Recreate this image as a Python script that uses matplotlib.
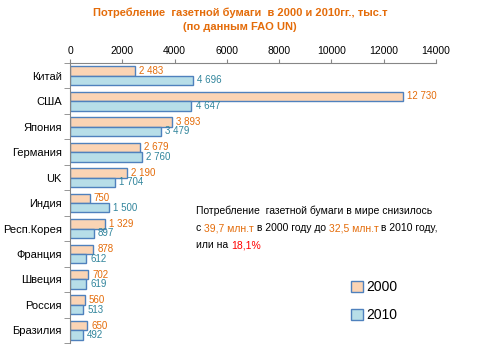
import numpy as np
import matplotlib.pyplot as plt

countries = ["Китай", "США", "Япония", "Германия", "UK", "Индия",
             "Респ.Корея", "Франция", "Швеция", "Россия", "Бразилия"]
v2000 = [2483, 12730, 3893, 2679, 2190, 750, 1329, 878, 702, 560, 650]
v2010 = [4696, 4647, 3479, 2760, 1704, 1500, 897, 612, 619, 513, 492]
xticks = [0, 2000, 4000, 6000, 8000, 10000, 12000, 14000]

plt.rcParams['font.family'] = ['Liberation Sans', 'DejaVu Sans']

c_orange = "#FBD4B4"
c_blue = "#B7DEE8"
c_edge = "#4F81BD"
t_orange = "#E46C0A"
t_blue = "#31859C"

fig = plt.figure(figsize=(4.8, 3.6), dpi=100)
ax = fig.add_axes([0.146, 0.047, 0.762, 0.778])

y = np.arange(len(countries))
h = 0.37
ax.barh(y - h / 2, v2000, height=h, color=c_orange, edgecolor=c_edge, linewidth=1, label="2000")
ax.barh(y + h / 2, v2010, height=h, color=c_blue, edgecolor=c_edge, linewidth=1, label="2010")

def fmt(v):
    return f"{v:,}".replace(",", " ")

for i in range(len(countries)):
    ax.text(v2000[i] + 160, y[i] - h / 2, fmt(v2000[i]), color=t_orange, fontsize=7, va="center", ha="left")
    ax.text(v2010[i] + 160, y[i] + h / 2, fmt(v2010[i]), color=t_blue, fontsize=7, va="center", ha="left")

ax.set_xlim(0, 14000)
ax.set_ylim(len(countries) - 0.5, -0.5)
ax.xaxis.tick_top()
ax.set_xticks(xticks)
ax.set_xticklabels([str(t) for t in xticks], fontsize=7.5)
ax.tick_params(axis="x", length=3, pad=2, color="#868686")

ax.set_yticks(y)
ax.set_yticklabels(countries, fontsize=8)
ax.tick_params(axis="y", length=0, pad=6)
ax.set_yticks(np.arange(len(countries) + 1) - 0.5, minor=True)
ax.tick_params(axis="y", which="minor", length=4, color="#868686")

for s in ["right", "bottom"]:
    ax.spines[s].set_visible(False)
ax.spines["top"].set_color("#868686")
ax.spines["left"].set_color("#868686")

fig.text(0.5, 0.965, "Потребление  газетной бумаги  в 2000 и 2010гг., тыс.т",
         ha="center", va="center", color=t_orange, fontsize=8, fontweight="bold")
fig.text(0.5, 0.925, "(по данным FAO UN)",
         ha="center", va="center", color=t_orange, fontsize=8, fontweight="bold")

# annotation block
fs = 7.5
fig.text(0.408, 0.405, "Потребление  газетной бумаги в мире снизилось", fontsize=fs, color="black")
parts = [("с ", "black"), ("39,7 млн.т", t_orange), (" в 2000 году до ", "black"),
         ("32,5 млн.т", t_orange), (" в 2010 году,", "black")]
fig.canvas.draw()
r = fig.canvas.get_renderer()
x0 = 0.408
for s, c in parts:
    t = fig.text(x0, 0.358, s, fontsize=fs, color=c)
    bb = t.get_window_extent(renderer=r)
    x0 += bb.width / fig.bbox.width
x0 = 0.408
for s, c in [("или на ", "black"), ("18,1%", "#FF0000")]:
    t = fig.text(x0, 0.311, s, fontsize=fs, color=c)
    bb = t.get_window_extent(renderer=r)
    x0 += bb.width / fig.bbox.width

leg = ax.legend(loc="lower left", bbox_to_anchor=(0.735, 0.03), frameon=False, fontsize=10,
                handlelength=0.8, handleheight=0.8, handletextpad=0.3, labelspacing=1.0)

fig.savefig("out.png", dpi=100)
